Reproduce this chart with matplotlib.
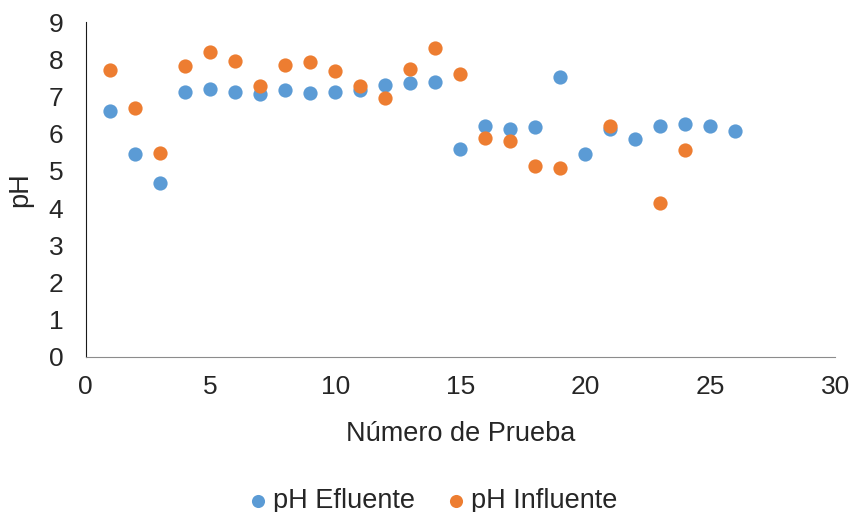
import matplotlib
matplotlib.use("Agg")
import matplotlib.pyplot as plt

plt.rcParams["font.family"] = ["Liberation Sans", "DejaVu Sans"]

prueba_efluente = list(range(1, 27))
ph_efluente = [6.61, 5.44, 4.68, 7.12, 7.19, 7.12, 7.07, 7.16, 7.09, 7.12,
               7.18, 7.32, 7.35, 7.39, 5.59, 6.21, 6.12, 6.18, 7.51, 5.46,
               6.13, 5.86, 6.21, 6.27, 6.21, 6.08]

prueba_influente = [1, 2, 3, 4, 5, 6, 7, 8, 9, 10, 11, 12, 13, 14, 15, 16,
                    17, 18, 19, 21, 23, 24]
ph_influente = [7.71, 6.70, 5.49, 7.81, 8.19, 7.96, 7.29, 7.84, 7.93, 7.68,
                7.29, 6.95, 7.74, 8.29, 7.61, 5.88, 5.79, 5.14, 5.08, 6.21,
                4.13, 5.56]

text_color = "#262626"
fs_tick = 19
fs_label = 19.5

fig = plt.figure(figsize=(8.55, 5.12), dpi=100)
ax = fig.add_axes([0.1, 0.303, 0.877, 0.654])

ax.scatter(prueba_efluente, ph_efluente, s=105, color="#5B9BD5",
           label="pH Efluente", zorder=3, linewidths=0)
ax.scatter(prueba_influente, ph_influente, s=105, color="#ED7D31",
           label="pH Influente", zorder=4, linewidths=0)

ax.set_xlim(0, 30)
ax.set_ylim(0, 9)
ax.set_xticks(range(0, 31, 5))
ax.set_yticks(range(0, 10))
ax.tick_params(length=0, labelsize=fs_tick, colors=text_color)
ax.tick_params(axis="x", pad=13)
ax.tick_params(axis="y", pad=16)
for side in ("top", "right"):
    ax.spines[side].set_visible(False)
ax.spines["left"].set_color("#1a1a1a")
ax.spines["bottom"].set_color("#8c8c8c")

ax.set_xlabel("Número de Prueba", fontsize=fs_label, color=text_color)
ax.xaxis.set_label_coords(0.5, -0.23)
ax.xaxis.label.set_va("center")
ax.set_ylabel("pH", fontsize=fs_label, color=text_color)
ax.yaxis.set_label_coords(-0.087, 0.5)
ax.yaxis.label.set_va("center")

fig.legend(loc="center", bbox_to_anchor=(0.504, 0.022), ncol=2,
           frameon=False, fontsize=fs_label, handlelength=1.0,
           handletextpad=0.05, columnspacing=1.0, markerscale=0.92,
           labelcolor=text_color)

fig.savefig("out.png", dpi=100)
